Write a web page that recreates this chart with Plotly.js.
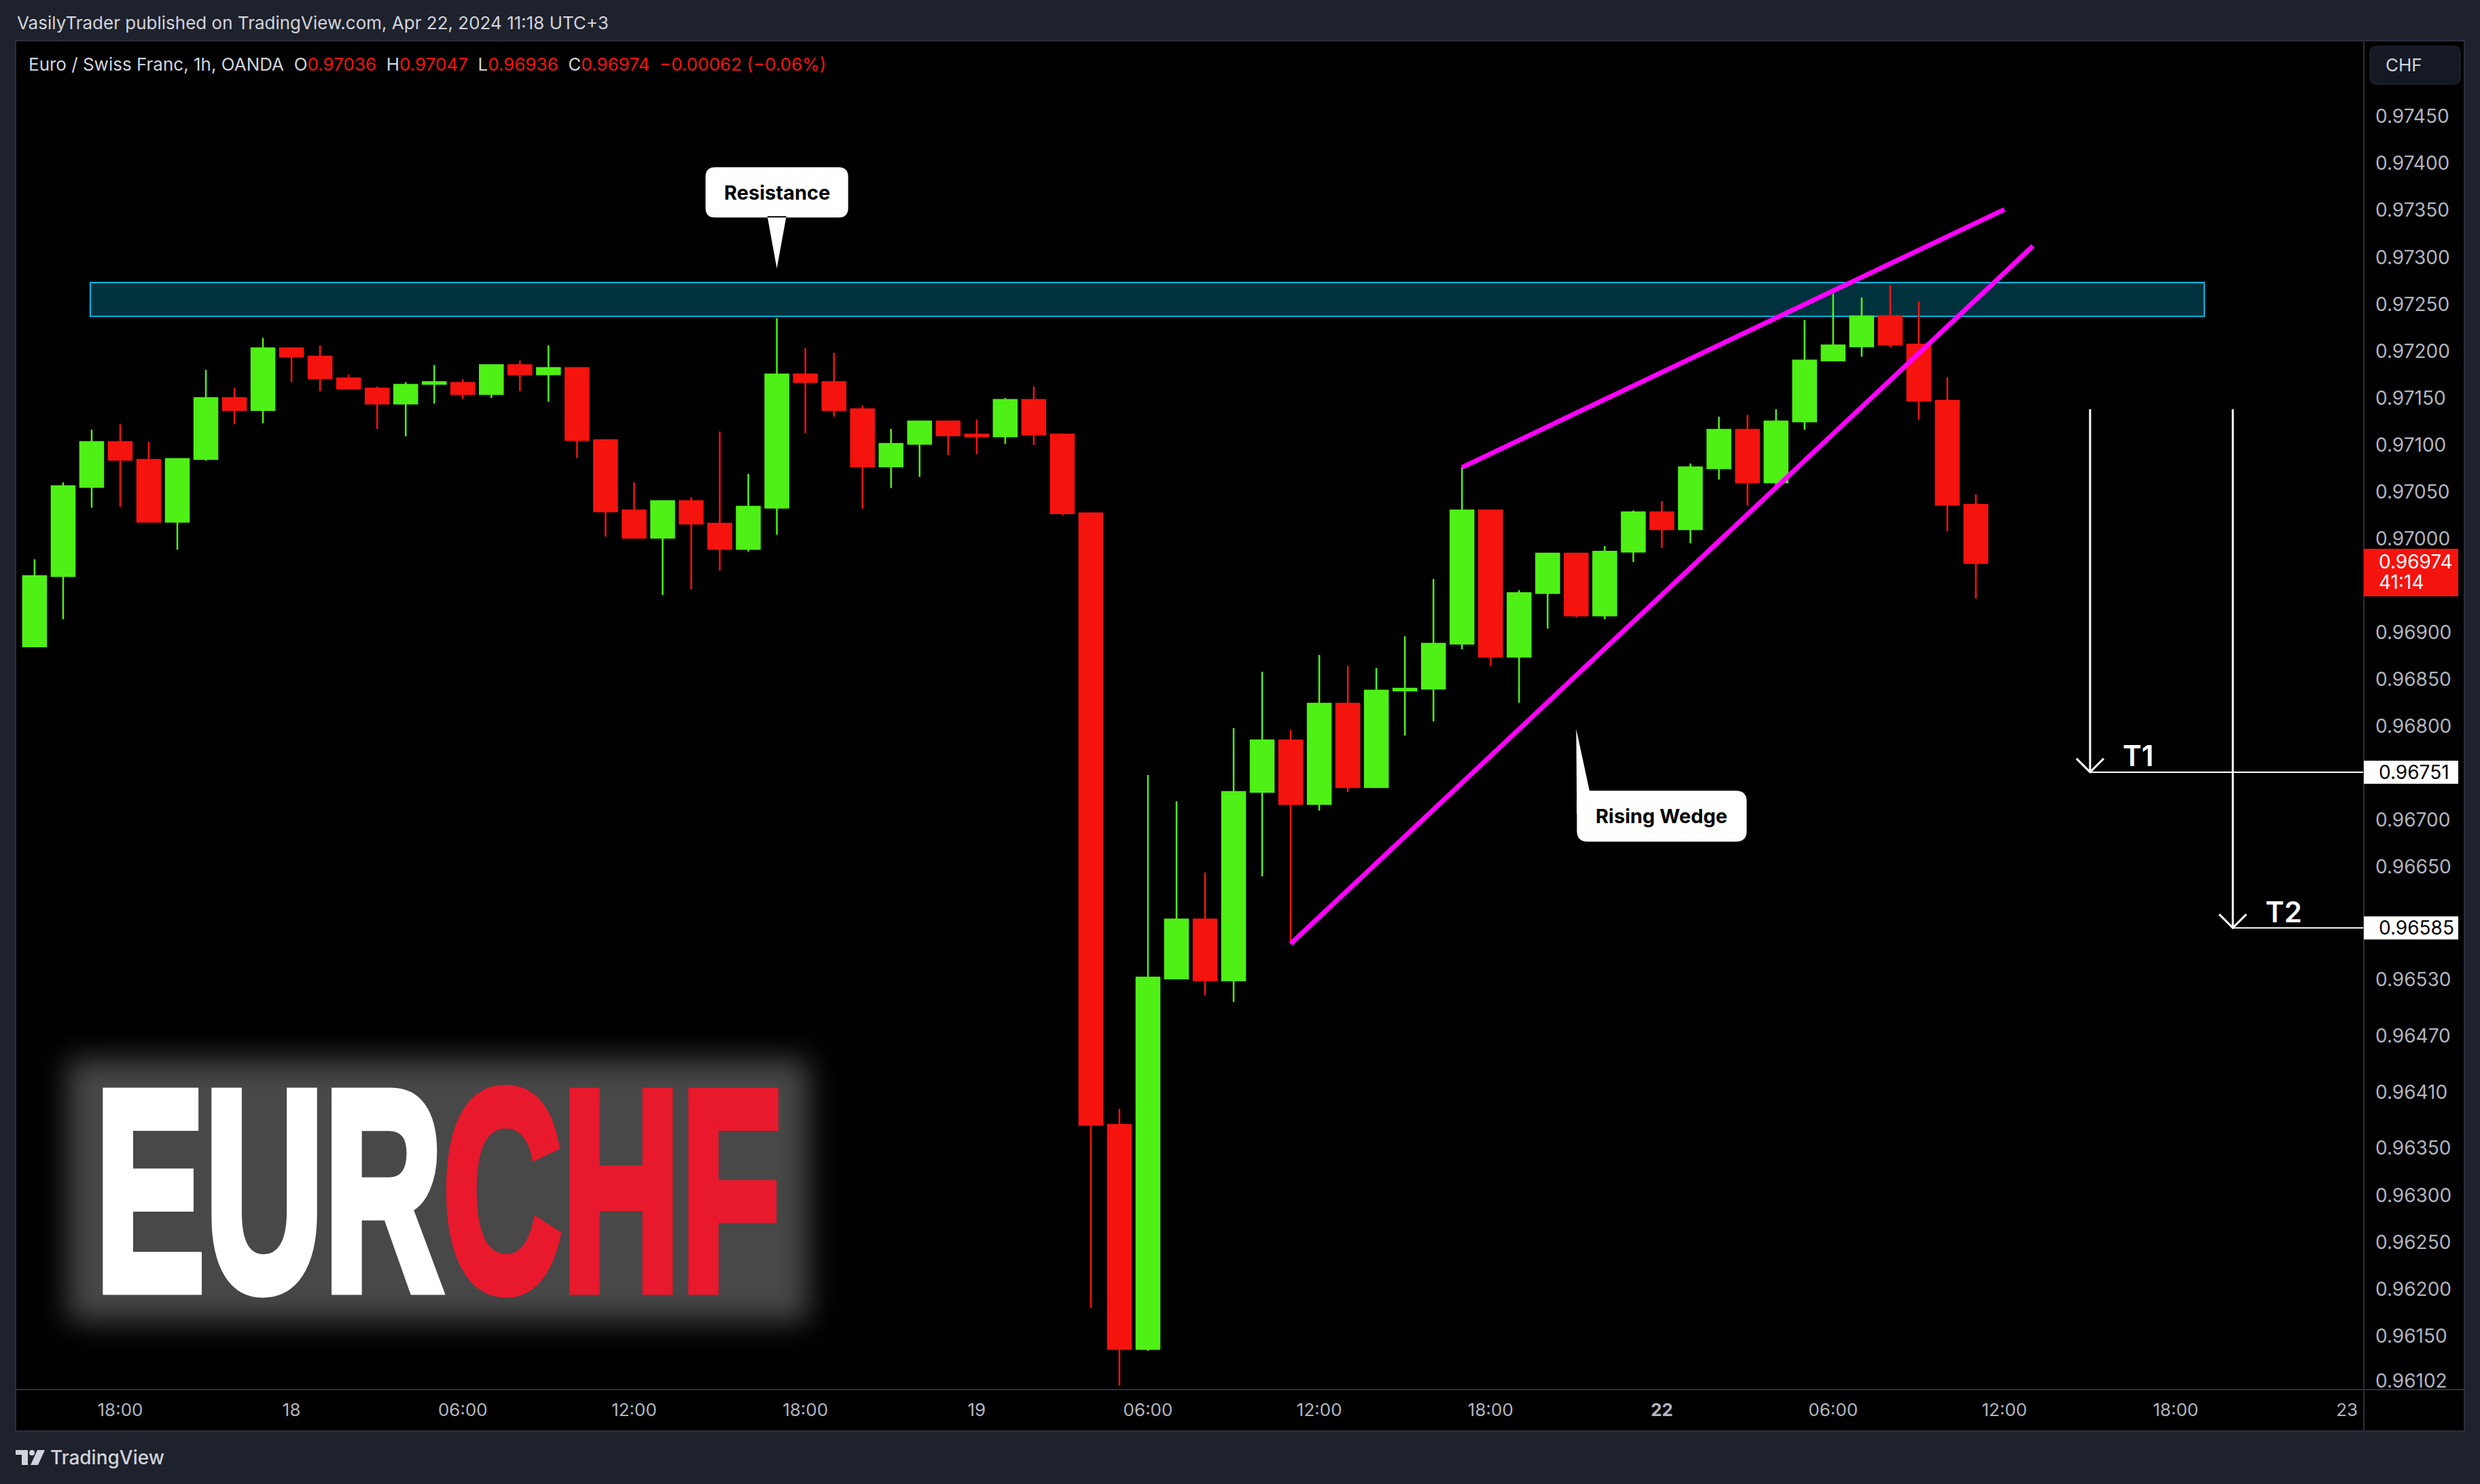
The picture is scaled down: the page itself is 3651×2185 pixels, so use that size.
<!DOCTYPE html>
<html><head><meta charset="utf-8">
<script src="https://cdn.plot.ly/plotly-3.0.1.min.js"></script>
<style>html,body{margin:0;padding:0;background:#1e222d;overflow:hidden}#chart{width:3651px;height:2185px}</style>
</head><body><div id="chart"></div>
<script>
// ---------------- DATA ----------------
const candleTimes = [
 '2024-04-17 15:00','2024-04-17 16:00','2024-04-17 17:00','2024-04-17 18:00','2024-04-17 19:00','2024-04-17 20:00','2024-04-17 21:00','2024-04-17 22:00','2024-04-17 23:00',
 '2024-04-18 00:00','2024-04-18 01:00','2024-04-18 02:00','2024-04-18 03:00','2024-04-18 04:00','2024-04-18 05:00','2024-04-18 06:00','2024-04-18 07:00','2024-04-18 08:00','2024-04-18 09:00','2024-04-18 10:00','2024-04-18 11:00',
 '2024-04-18 12:00','2024-04-18 13:00','2024-04-18 14:00','2024-04-18 15:00','2024-04-18 16:00','2024-04-18 17:00','2024-04-18 18:00','2024-04-18 19:00','2024-04-18 20:00','2024-04-18 21:00','2024-04-18 22:00','2024-04-18 23:00',
 '2024-04-19 00:00','2024-04-19 01:00','2024-04-19 02:00','2024-04-19 03:00','2024-04-19 04:00','2024-04-19 05:00','2024-04-19 06:00','2024-04-19 07:00','2024-04-19 08:00','2024-04-19 09:00','2024-04-19 10:00','2024-04-19 11:00',
 '2024-04-19 12:00','2024-04-19 13:00','2024-04-19 14:00','2024-04-19 15:00','2024-04-19 16:00','2024-04-19 17:00','2024-04-19 18:00','2024-04-19 19:00','2024-04-19 20:00','2024-04-19 21:00','2024-04-19 22:00','2024-04-19 23:00',
 '2024-04-22 00:00','2024-04-22 01:00','2024-04-22 02:00','2024-04-22 03:00','2024-04-22 04:00','2024-04-22 05:00','2024-04-22 06:00','2024-04-22 07:00','2024-04-22 08:00','2024-04-22 09:00','2024-04-22 10:00','2024-04-22 11:00'
];
const opens = [
 0.96885,0.96960,0.97055,0.97103,0.97084,0.97018,0.97085,0.97150,0.97137,
 0.97203,0.97194,0.97171,0.97160,0.97144,0.97165,0.97166,0.97154,0.97185,0.97175,0.97182,0.97105,0.97030,0.97001,0.97040,0.97016,0.96989,0.97033,0.97175,0.97167,0.97138,0.97077,0.97101,0.97125,
 0.97111,0.97109,0.97148,0.97111,0.97027,0.96375,0.96136,0.96531,0.96594,0.96529,0.96730,0.96785,0.96717,0.96824,0.96735,0.96838,0.96840,0.96888,0.97030,0.96874,0.96942,0.96984,0.96918,0.96986,
 0.97028,0.97010,0.97075,0.97116,0.97060,0.97125,0.97190,0.97205,0.97237,0.97207,0.97147,0.97036
];
const highs = [
 0.96978,0.97060,0.97116,0.97122,0.97103,0.97085,0.97180,0.97161,0.97214,
 0.97203,0.97206,0.97175,0.97162,0.97167,0.97185,0.97170,0.97185,0.97190,0.97206,0.97183,0.97105,0.97060,0.97040,0.97044,0.97114,0.97069,0.97235,0.97203,0.97198,0.97142,0.97117,0.97125,0.97125,
 0.97127,0.97150,0.97162,0.97112,0.97028,0.96392,0.96748,0.96720,0.96644,0.96798,0.96858,0.96796,0.96876,0.96864,0.96862,0.96896,0.96957,0.97076,0.97030,0.96945,0.96984,0.96984,0.96992,0.97030,
 0.97040,0.97080,0.97130,0.97132,0.97138,0.97233,0.97261,0.97257,0.97270,0.97253,0.97172,0.97047
];
const lows = [
 0.96885,0.96914,0.97033,0.97034,0.97018,0.96988,0.97083,0.97122,0.97123,
 0.97167,0.97157,0.97160,0.97117,0.97109,0.97144,0.97149,0.97150,0.97157,0.97146,0.97086,0.97002,0.97001,0.96940,0.96946,0.96966,0.96986,0.97004,0.97112,0.97130,0.97032,0.97054,0.97066,0.97089,
 0.97090,0.97101,0.97100,0.97025,0.96180,0.96097,0.96134,0.96531,0.96513,0.96506,0.96640,0.96568,0.96710,0.96730,0.96735,0.96790,0.96805,0.96882,0.96864,0.96825,0.96904,0.96916,0.96914,0.96975,
 0.96990,0.96995,0.97063,0.97035,0.97056,0.97116,0.97190,0.97194,0.97204,0.97127,0.97008,0.96936
];
const closes = [
 0.96960,0.97056,0.97103,0.97084,0.97018,0.97085,0.97150,0.97137,0.97203,
 0.97194,0.97171,0.97160,0.97144,0.97164,0.97167,0.97154,0.97185,0.97175,0.97182,0.97105,0.97029,0.97001,0.97040,0.97016,0.96989,0.97034,0.97175,0.97167,0.97137,0.97077,0.97101,0.97125,0.97110,
 0.97109,0.97148,0.97111,0.97027,0.96375,0.96136,0.96532,0.96594,0.96529,0.96730,0.96785,0.96717,0.96824,0.96735,0.96838,0.96840,0.96888,0.97030,0.96874,0.96942,0.96984,0.96918,0.96986,0.97028,
 0.97010,0.97076,0.97116,0.97060,0.97125,0.97190,0.97206,0.97237,0.97207,0.97147,0.97036,0.96974
];
// x-axis tick labels (hour slots counted from the first candle, future slots included)
const timeTickSlots = [3,9,15,21,27,33,39,45,51,57,63,69,75,81];
const timeTickLabels = ['18:00','18','06:00','12:00','18:00','19','06:00','12:00','18:00','<b>22</b>','06:00','12:00','18:00','23'];
// price-scale tick labels
const priceTicks = [0.97450,0.97400,0.97350,0.97300,0.97250,0.97200,0.97150,0.97100,0.97050,0.97000,0.96900,0.96850,0.96800,0.96700,0.96650,0.96530,0.96470,0.96410,0.96350,0.96300,0.96250,0.96200,0.96150,0.96102];
// drawings
const resistanceZone = [0.97237, 0.97273];
const resistanceSlots = [1.95, 76.0];
const wedgeUpperX = [50, 69], wedgeUpperY = [0.97076, 0.97351];
const wedgeLowerX = [44, 70], wedgeLowerY = [0.96568, 0.97312];
const targetNames = ['T1','T2'];
const targetSlots = [72, 77];
const targetStart = [0.97138, 0.97138];
const targetPrices = [0.96751, 0.96585];
const resistanceTip = [26, 0.97288];
const wedgeTip = [54, 0.96797];

// ---------------- GEOMETRY ----------------
const W = 3651, H = 2185;
const M = {l:23, r:171, t:60, b:139};
const plotW = W - M.l - M.r, plotH = H - M.t - M.b;
const xRange = [-0.664, 81.59];
const yRange = [0.960927, 0.975308];
const dX = x => M.l + (x - xRange[0]) / (xRange[1] - xRange[0]) * plotW;
const dY = y => M.t + (yRange[1] - y) / (yRange[1] - yRange[0]) * plotH;
const PX = X => (X - M.l) / plotW;
const PY = Y => (H - M.b - Y) / plotH;
const xPerPx = (xRange[1] - xRange[0]) / plotW;
const yPerPx = (yRange[1] - yRange[0]) / plotH;

const GREEN = '#4ff016', RED = '#f5130e';
const UI = 'Inter, "Liberation Sans", sans-serif';

const xIdx = candleTimes.map((t, i) => i);
const traces = [];
traces.push({
  type: 'candlestick', x: xIdx, open: opens, high: highs, low: lows, close: closes,
  increasing: {line: {color: GREEN, width: 2.5}, fillcolor: GREEN},
  decreasing: {line: {color: RED, width: 2.5}, fillcolor: RED},
  whiskerwidth: 0, hoverinfo: 'skip', showlegend: false
});
// wedge lines
traces.push({type:'scatter', mode:'lines', x: wedgeUpperX, y: wedgeUpperY, line:{color:'#ff00ff', width:7}, hoverinfo:'skip', showlegend:false});
traces.push({type:'scatter', mode:'lines', x: wedgeLowerX, y: wedgeLowerY, line:{color:'#ff00ff', width:7}, hoverinfo:'skip', showlegend:false});
// target arrows
targetSlots.forEach((tx, j) => {
  const ty = targetPrices[j];
  traces.push({type:'scatter', mode:'lines', x:[tx, tx], y:[targetStart[j], ty], line:{color:'#ffffff', width:3}, hoverinfo:'skip', showlegend:false});
  traces.push({type:'scatter', mode:'lines', x:[tx - 20*xPerPx, tx, tx + 20*xPerPx], y:[ty + 20*yPerPx, ty, ty + 20*yPerPx], line:{color:'#ffffff', width:3}, hoverinfo:'skip', showlegend:false});
  traces.push({type:'scatter', mode:'lines', x:[tx, xRange[1]], y:[ty, ty], line:{color:'#ffffff', width:2}, hoverinfo:'skip', showlegend:false});
});

// ---------------- SHAPES ----------------
function rr(X0, X1, Y0, Y1, r) {
  const p = (X, Y) => PX(X) + ',' + PY(Y);
  return 'M' + p(X0 + r, Y0) + ' L' + p(X1 - r, Y0) + ' Q' + p(X1, Y0) + ' ' + p(X1, Y0 + r) +
    ' L' + p(X1, Y1 - r) + ' Q' + p(X1, Y1) + ' ' + p(X1 - r, Y1) + ' L' + p(X0 + r, Y1) +
    ' Q' + p(X0, Y1) + ' ' + p(X0, Y1 - r) + ' L' + p(X0, Y0 + r) + ' Q' + p(X0, Y0) + ' ' + p(X0 + r, Y0) + ' Z';
}
function poly(pts) {
  return 'M' + pts.map(q => PX(q[0]) + ',' + PY(q[1])).join(' L') + ' Z';
}
const shapes = [];
// chart pane
shapes.push({type:'rect', xref:'paper', yref:'paper', x0:0, x1:PX(3628), y0:PY(2107), y1:1, fillcolor:'#000000', line:{color:'#2a2e39', width:2}, layer:'below'});
// glow behind logo
shapes.push({type:'rect', xref:'paper', yref:'paper', x0:PX(100), x1:PX(1190), y0:PY(1945), y1:PY(1560), fillcolor:'rgb(72,72,72)', line:{width:0}, layer:'below'});
// resistance zone
shapes.push({type:'rect', xref:'x', yref:'y', x0:resistanceSlots[0], x1:resistanceSlots[1], y0:resistanceZone[0], y1:resistanceZone[1], fillcolor:'rgb(0,50,62)', line:{color:'#00bce6', width:2}, layer:'below'});
// separators
shapes.push({type:'line', xref:'paper', yref:'paper', x0:1, x1:1, y0:PY(2107), y1:1, line:{color:'#2a2e39', width:2}});
shapes.push({type:'line', xref:'paper', yref:'paper', x0:0, x1:PX(3628), y0:0, y1:0, line:{color:'#2a2e39', width:2}});
// CHF box
shapes.push({type:'path', xref:'paper', yref:'paper', path: rr(3489, 3622, 68, 124, 10), fillcolor:'#151924', line:{color:'#2a2e39', width:1}});
// resistance callout
const rtX = dX(resistanceTip[0]), rtY = dY(resistanceTip[1]);
shapes.push({type:'path', xref:'paper', yref:'paper', path: rr(rtX - 105, rtX + 105, rtY - 149, rtY - 75, 14) + ' ' + poly([[rtX - 14, rtY - 77], [rtX + 14, rtY - 77], [rtX, rtY]]), fillcolor:'#ffffff', line:{width:0}});
// rising wedge callout
const wtX = dX(wedgeTip[0]), wtY = dY(wedgeTip[1]);
shapes.push({type:'path', xref:'paper', yref:'paper', path: rr(wtX + 1, wtX + 251, wtY + 91, wtY + 166, 16), fillcolor:'#ffffff', line:{width:0}});
shapes.push({type:'path', xref:'paper', yref:'paper', path: poly([[wtX, wtY], [wtX + 20, wtY + 93], [wtX + 20, wtY + 125], [wtX + 1, wtY + 125]]), fillcolor:'#ffffff', line:{width:0}});
// price-scale labels
const last = closes.length - 1;
const cY = dY(closes[last]);
shapes.push({type:'rect', xref:'paper', yref:'paper', x0:1, x1:PX(3619), y0:PY(cY + 49), y1:PY(cY - 21), fillcolor: closes[last] < opens[last] ? RED : GREEN, line:{width:0}});
targetPrices.forEach(tp => {
  const ty = dY(tp);
  shapes.push({type:'rect', xref:'paper', yref:'paper', x0:1, x1:PX(3619), y0:PY(ty + 17), y1:PY(ty - 17), fillcolor:'#ffffff', line:{width:0}});
});
// TradingView logo
shapes.push({type:'path', xref:'paper', yref:'paper', path: poly([[23,2135],[41,2135],[41,2157],[32,2157],[32,2142],[23,2142]]), fillcolor:'#d1d4dc', line:{width:0}});
shapes.push({type:'circle', xref:'paper', yref:'paper', x0:PX(43), x1:PX(51), y0:PY(2143), y1:PY(2135), fillcolor:'#d1d4dc', line:{width:0}});
shapes.push({type:'path', xref:'paper', yref:'paper', path: poly([[55,2135],[66,2135],[56,2157],[45,2157]]), fillcolor:'#d1d4dc', line:{width:0}});

// ---------------- ANNOTATIONS ----------------
const f5 = v => v.toFixed(5);
const chg = closes[last] - closes[last - 1];
const sgn = chg < 0 ? '\u2212' : '+';
const valColor = chg < 0 ? RED : GREEN;
const vs = t => '<span style="color:' + valColor + '">' + t + '</span>';
const sp = '\u00a0\u00a0';
const headerText = 'Euro / Swiss Franc, 1h, OANDA' + sp + 'O' + vs(f5(opens[last])) + sp + 'H' + vs(f5(highs[last])) + sp + 'L' + vs(f5(lows[last])) + sp + 'C' + vs(f5(closes[last])) + sp + vs(sgn + Math.abs(chg).toFixed(5) + ' (' + sgn + Math.abs(chg / closes[last - 1] * 100).toFixed(2) + '%)');

const ann = [];
const A = (X, Y, text, font, xanchor, extra) => ann.push(Object.assign({xref:'paper', yref:'paper', x:PX(X), y:PY(Y), text, font, xanchor: xanchor || 'left', yanchor:'middle', showarrow:false}, extra || {}));
A(23, 33, 'VasilyTrader published on TradingView.com, Apr 22, 2024 11:18 UTC+3', {family:UI, size:26, color:'#d1d4dc'});
A(40, 94, headerText, {family:UI, size:26, color:'#d1d4dc'});
A(rtX, rtY - 112, 'Resistance', {family:UI, size:29, color:'#000000', weight:700}, 'center');
A(wtX + 126, wtY + 128, 'Rising Wedge', {family:UI, size:29, color:'#000000', weight:700}, 'center');
targetSlots.forEach((tx, j) => {
  A(dX(tx) + 46, dY(targetPrices[j]) - 24, targetNames[j], {family:UI, size:42, color:'#ffffff', weight:600});
  A(3500, dY(targetPrices[j]), f5(targetPrices[j]), {family:UI, size:28, color:'#000000'});
});
A(3500, cY - 2, f5(closes[last]), {family:UI, size:28, color:'#ffffff'});
A(3500, cY + 28, '41:14', {family:UI, size:28, color:'#ffffff'});
A(3510, 96, 'CHF', {family:UI, size:26, color:'#d1d4dc'});
A(645, 1753, '<span style="color:#ffffff">EUR</span><span style="color:#e8192c">CHF</span>', {family:'"Liberation Sans Narrow", "Liberation Sans", sans-serif', size:300, color:'#ffffff', weight:700}, 'center');
A(72, 2146, 'TradingView', {family:UI, size:28, color:'#d1d4dc', weight:500});

const layout = {
  width: W, height: H, autosize: false,
  margin: {l:M.l, r:M.r, t:M.t, b:M.b, pad:0},
  paper_bgcolor: '#1e222d', plot_bgcolor: 'rgba(0,0,0,0)',
  showlegend: false, hovermode: false, dragmode: false,
  boxgap: 0.1, boxgroupgap: 0.1,
  xaxis: {range: xRange, tickvals: timeTickSlots, ticktext: timeTickLabels, showgrid:false, zeroline:false, showline:false, ticks:'', ticklabelstandoff: 12,
          tickfont:{family:UI, size:26, color:'#b2b5be'}, rangeslider:{visible:false}, automargin:false, fixedrange:true},
  yaxis: {range: yRange, side:'right', tickvals: priceTicks, ticktext: priceTicks.map(f5), showgrid:false, zeroline:false, showline:false, ticks:'', ticklabelstandoff: 16,
          tickfont:{family:UI, size:28, color:'#b2b5be'}, automargin:false, fixedrange:true},
  shapes: shapes, annotations: ann
};

Plotly.newPlot('chart', traces, layout, {displayModeBar:false, staticPlot:true}).then(() => {
  // soften the logo backdrop
  document.querySelectorAll('path').forEach(p => { if (p.style.fill === 'rgb(72, 72, 72)') p.style.filter = 'blur(22px)'; });
  // stretch the logo text to its tall, heavy condensed look
  document.querySelectorAll('text.annotation-text').forEach(t => {
    if (t.textContent === 'EURCHF') {
      t.querySelectorAll('tspan').forEach(ts => {
        const c = ts.style.fill || '#ffffff';
        ts.style.stroke = c; ts.style.strokeWidth = '12px'; ts.style.strokeLinejoin = 'miter';
      });
      const bb = t.getBBox();
      const sx = 1010 / bb.width;
      const sy = 300 / (0.716 * 300);
      t.style.transformBox = 'fill-box';
      t.style.transformOrigin = 'center';
      t.style.transform = 'scale(' + sx + ',' + sy + ')';
    }
  });
});
</script>
</body></html>
